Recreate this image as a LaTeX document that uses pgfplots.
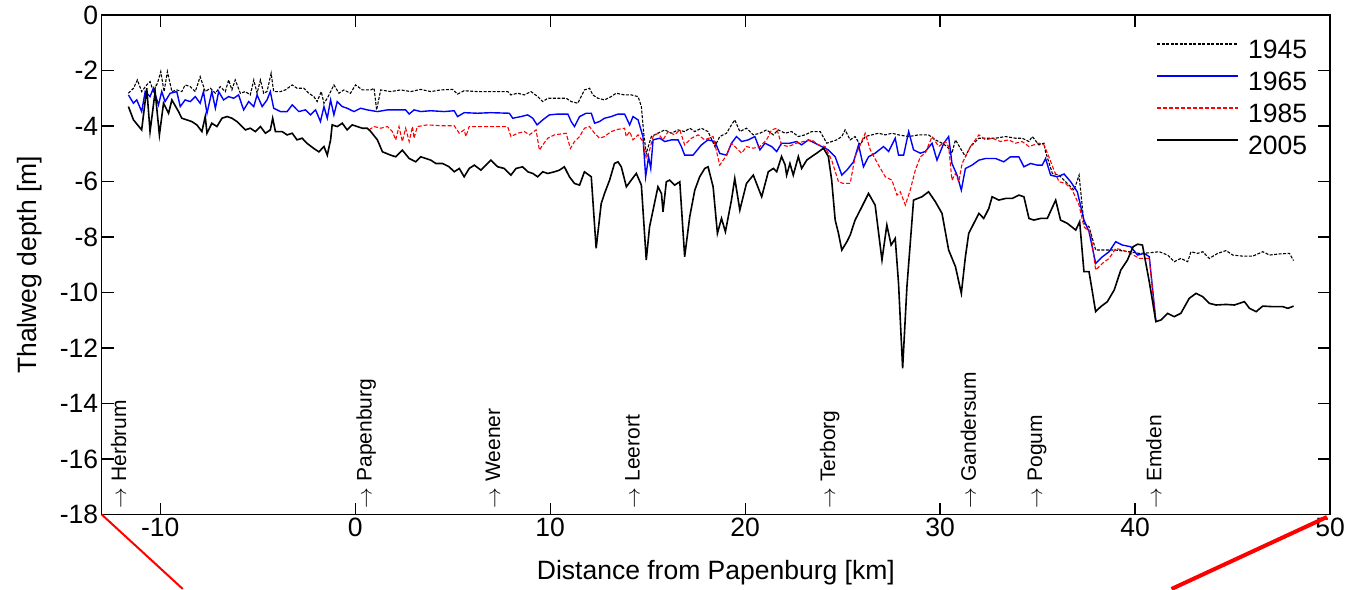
\documentclass[border=0pt]{standalone}
\usepackage{pgfplots}
\pgfplotsset{compat=1.18}
\usepackage{fontspec}
\setmainfont{Liberation Sans}
\begin{document}
\begin{tikzpicture}
\begin{axis}[
  name=ax,
  scale only axis, width=1228.3pt, height=499.5pt,
  xmin=-13, xmax=50, ymin=-18, ymax=0,
  xtick={-10,0,...,50}, ytick={-18,-16,...,0},
  tick align=inside, major tick length=12pt,
  tick style={black, line width=1.2pt},
  axis line style={line width=1.3pt},
  /pgf/number format/assume math mode=true,
  ticklabel style={font=\fontsize{26.5}{30}\selectfont},
  label style={font=\fontsize{26.5}{30}\selectfont},
  xlabel={Distance from Papenburg [km]},
  ylabel={Thalweg depth [m]},
  xlabel style={at={(axis description cs:0.5,-0.131)}, anchor=base},
  ylabel style={at={(axis description cs:-0.0584,0.5)}, anchor=center},
  clip=false,
  legend cell align=left,
  legend image code/.code={\draw[#1] (0pt,10pt) -- (81pt,10pt);},
  legend style={draw=none, fill=none, at={(axis description cs:0.9813,0.954)}, anchor=north east,
    inner sep=0pt, outer sep=0pt, font=\fontsize{26.5}{30}\selectfont, row sep=0pt,
    /tikz/every odd column/.append style={column sep=9pt},
    nodes={inner sep=0pt, text height=21pt, text depth=11pt}},
]
% 1945
\addplot[black, line width=1.1pt, dash pattern=on 3pt off 1.5pt] coordinates {
(-11.63,-2.82) (-11.37,-2.64) (-11.17,-2.34) (-10.95,-2.76) (-10.69,-2.52) (-10.52,-2.40) (-10.35,-2.76) (-10.14,-2.46) (-9.97,-2.04) (-9.80,-2.76) (-9.63,-2.04) (-9.40,-2.76) (-9.15,-2.70) (-8.89,-2.76) (-8.72,-2.52) (-8.46,-2.58) (-8.20,-2.76) (-7.95,-2.22) (-7.69,-2.76) (-7.43,-2.64) (-7.17,-2.82) (-6.92,-2.58) (-6.66,-2.76) (-6.49,-2.34) (-6.32,-2.70) (-6.15,-2.34) (-5.89,-2.82) (-5.63,-2.76) (-5.38,-2.88) (-5.20,-2.34) (-5.03,-2.82) (-4.86,-2.34) (-4.69,-2.82) (-4.52,-2.76) (-4.31,-2.10) (-4.18,-2.76) (-3.83,-2.76) (-3.58,-2.70) (-3.23,-2.52) (-2.98,-2.64) (-2.63,-2.64) (-2.38,-2.82) (-2.12,-2.94) (-1.95,-3.12) (-1.74,-2.76) (-1.60,-3.18) (-1.43,-3.00) (-1.09,-2.52) (-0.83,-2.82) (-0.58,-2.70) (-0.24,-2.82) (0.02,-2.52) (0.37,-2.70) (0.80,-2.70) (0.97,-2.64) (1.10,-3.42) (1.31,-2.70) (1.82,-2.76) (2.34,-2.70) (2.85,-2.76)
(3.36,-2.68) (3.88,-2.76) (4.39,-2.70) (4.99,-2.68) (5.25,-2.85) (5.59,-2.73) (6.28,-2.76) (6.96,-2.76) (7.82,-2.76) (7.99,-2.88) (8.34,-2.82) (8.68,-2.88) (9.02,-2.76) (9.36,-2.94) (9.62,-3.12) (9.88,-3.00) (10.39,-3.00) (10.82,-3.00) (11.08,-3.12) (11.42,-3.18) (11.76,-2.70) (12.02,-2.64) (12.19,-2.88) (12.45,-3.00) (12.79,-3.06) (13.13,-2.94) (13.39,-2.82) (13.82,-2.88) (14.16,-2.88) (14.51,-2.94) (14.68,-3.30) (14.80,-4.26) (14.93,-4.99) (15.19,-4.38) (15.53,-4.26) (15.88,-4.14) (16.22,-4.26) (16.56,-4.14) (16.90,-4.20) (17.16,-4.08) (17.42,-4.20) (17.76,-4.08) (18.10,-4.20) (18.45,-4.74) (18.70,-4.38) (19.05,-4.26)
(19.30,-3.96) (19.47,-3.78) (19.73,-4.20) (20.07,-4.08) (20.42,-4.32) (20.76,-4.26) (21.10,-4.14) (21.45,-4.32) (21.70,-4.14) (22.05,-4.26) (22.39,-4.20) (22.73,-4.38) (23.07,-4.32) (23.42,-4.20) (23.85,-4.20) (24.19,-4.62) (24.44,-4.56) (24.70,-4.50) (24.96,-4.38) (25.13,-4.14) (25.39,-4.50) (25.64,-4.38) (25.90,-4.68) (26.16,-4.38) (26.50,-4.32) (26.84,-4.26) (27.19,-4.32) (27.53,-4.26) (27.87,-4.32) (28.39,-4.38) (28.90,-4.32) (29.41,-4.32) (29.76,-4.50) (30.10,-4.62) (30.36,-4.74) (30.61,-4.98) (30.79,-4.50) (31.04,-4.80) (31.30,-5.10) (31.56,-4.74) (31.99,-4.44) (32.33,-4.44) (32.84,-4.44) (33.36,-4.38) (33.87,-4.44) (34.21,-4.44) (34.56,-4.56) (34.73,-4.38) (35.07,-4.68) (35.33,-4.62) (35.41,-4.93) (35.76,-5.71) (36.10,-5.77) (36.53,-6.07) (36.87,-6.31) (37.13,-5.77) (37.38,-7.51) (37.64,-7.63) (37.98,-8.47) (38.50,-8.47) (39.01,-8.47) (39.70,-8.53) (40.21,-8.59) (40.73,-8.57) (41.24,-8.53) (41.67,-8.65) (42.01,-8.89) (42.35,-8.77) (42.70,-8.89) (42.87,-8.53) (43.21,-8.59) (43.47,-8.53) (43.81,-8.77) (44.24,-8.59) (44.67,-8.49) (45.01,-8.65) (45.52,-8.69) (46.04,-8.69) (46.55,-8.53) (46.90,-8.65) (47.41,-8.61) (47.92,-8.59) (48.13,-8.85)
};
\addlegendentry{1945}
% 1965
\addplot[blue, line width=1.4pt] coordinates {
(-11.63,-2.88) (-11.37,-3.18) (-11.20,-3.06) (-10.95,-3.48) (-10.77,-2.76) (-10.52,-2.94) (-10.35,-2.64) (-10.09,-3.24) (-9.92,-2.76) (-9.75,-3.12) (-9.49,-2.82) (-9.15,-2.76) (-8.97,-3.30) (-8.72,-3.06) (-8.46,-3.12) (-8.20,-2.94) (-7.95,-3.18) (-7.78,-2.76) (-7.60,-3.54) (-7.35,-2.76) (-7.17,-3.36) (-7.00,-2.76) (-6.75,-3.06) (-6.49,-2.94) (-6.23,-3.00) (-5.98,-2.88) (-5.72,-3.42) (-5.46,-3.12) (-5.20,-3.30) (-5.03,-2.88) (-4.77,-3.30) (-4.52,-3.06) (-4.35,-2.76) (-4.18,-3.36) (-3.83,-3.48) (-3.49,-3.48) (-3.23,-3.24) (-2.89,-3.48) (-2.55,-3.42) (-2.29,-3.60) (-2.03,-3.42) (-1.78,-3.84) (-1.60,-3.30) (-1.43,-3.72) (-1.26,-3.06) (-1.09,-3.60) (-0.92,-3.12) (-0.66,-3.30) (-0.41,-3.36) (-0.06,-3.48) (0.28,-3.36) (0.62,-3.42) (1.14,-3.48) (1.65,-3.42) (2.17,-3.42) (2.59,-3.42) (2.77,-3.57) (3.02,-3.42)
(3.36,-3.48) (3.88,-3.45) (4.56,-3.48) (5.08,-3.45) (5.25,-3.66) (5.59,-3.52) (6.28,-3.54) (6.96,-3.52) (7.91,-3.54) (8.08,-3.72) (8.51,-3.66) (8.85,-3.60) (9.11,-3.72) (9.33,-3.96) (9.62,-3.78) (9.96,-3.60) (10.39,-3.57) (10.91,-3.57) (11.08,-3.84) (11.25,-4.02) (11.51,-3.66) (11.85,-3.54) (12.11,-3.54) (12.28,-3.90) (12.53,-3.84) (12.79,-3.72) (13.13,-3.66) (13.48,-3.57) (13.82,-3.57) (14.08,-3.96) (14.25,-3.66) (14.51,-3.78) (14.76,-4.38) (14.90,-5.83) (15.05,-5.11) (15.16,-5.53) (15.28,-4.50) (15.62,-4.44) (15.88,-4.56) (16.22,-4.50) (16.56,-4.50) (16.73,-4.74) (16.90,-5.05) (17.33,-5.05) (17.76,-4.68) (18.10,-4.50) (18.45,-4.56) (18.70,-4.99) (19.05,-5.05)
(19.30,-4.62) (19.56,-4.38) (19.82,-4.56) (20.16,-4.50) (20.50,-4.38) (20.76,-4.86) (21.02,-4.62) (21.36,-4.74) (21.62,-4.92) (21.87,-4.62) (22.30,-4.62) (22.64,-4.56) (22.90,-4.68) (23.24,-4.50) (23.59,-4.62) (23.93,-4.74) (24.27,-4.86) (24.62,-5.11) (24.96,-5.77) (25.22,-5.59) (25.56,-5.29) (25.82,-4.68) (26.07,-5.47) (26.33,-5.11) (26.67,-4.98) (27.10,-4.74) (27.36,-4.92) (27.70,-4.44) (27.87,-5.05) (28.13,-5.05) (28.39,-4.20) (28.64,-4.86) (28.99,-4.98) (29.24,-4.92) (29.59,-4.62) (29.84,-5.23) (30.19,-4.62) (30.44,-4.38) (30.61,-5.35) (30.87,-5.77) (31.09,-6.31) (31.30,-5.53) (31.64,-5.41) (31.99,-5.23) (32.33,-5.17) (32.84,-5.17) (33.27,-5.29) (33.61,-5.11) (34.04,-5.11) (34.30,-5.47) (34.64,-5.35) (34.98,-5.41) (35.24,-5.41) (35.41,-5.17) (35.67,-5.77) (36.01,-5.83) (36.36,-5.73) (36.70,-6.01) (37.04,-6.37) (37.38,-7.39) (37.64,-7.81) (37.98,-8.95) (38.33,-8.71) (38.67,-8.53) (39.01,-8.17) (39.35,-8.29) (39.78,-8.35) (40.13,-8.65) (40.47,-8.59) (40.73,-8.71) (41.07,-11.05)
};
\addlegendentry{1965}
% 1985
\addplot[red, line width=1.1pt, dash pattern=on 4pt off 2pt] coordinates {
(0.71,-4.14) (0.97,-4.02) (1.31,-4.08) (1.65,-4.02) (1.91,-4.20) (2.08,-4.50) (2.25,-4.02) (2.42,-4.56) (2.59,-4.08) (2.77,-4.56) (2.94,-4.02) (3.02,-4.44) (3.19,-4.02) (3.71,-3.96) (4.39,-3.99) (5.08,-3.99) (5.34,-4.26) (5.59,-4.14) (5.68,-4.38) (5.85,-4.02) (6.45,-4.02) (7.13,-4.02) (7.82,-4.02) (7.99,-4.38) (8.34,-4.26) (8.68,-4.20) (8.93,-4.32) (9.28,-4.14) (9.45,-4.87) (9.62,-4.68) (9.88,-4.44) (10.22,-4.32) (10.82,-4.26) (11.04,-4.81) (11.25,-4.56) (11.51,-4.38) (11.76,-4.08) (12.02,-4.02) (12.28,-4.26) (12.53,-4.44) (12.79,-4.38) (13.13,-4.20) (13.48,-4.12) (13.82,-4.08) (13.90,-4.38) (14.08,-4.20) (14.25,-4.50) (14.51,-4.32) (14.76,-4.56) (14.93,-5.17) (15.10,-4.87) (15.28,-4.38) (15.53,-4.26) (15.79,-4.50) (16.05,-4.20) (16.39,-4.32) (16.65,-4.14) (16.90,-4.68) (17.25,-4.44) (17.59,-4.32) (17.93,-4.50) (18.36,-4.38) (18.70,-5.41) (19.05,-5.05)
(19.30,-4.62) (19.56,-4.80) (19.82,-4.98) (20.07,-4.74) (20.42,-4.80) (20.76,-4.74) (21.10,-4.50) (21.36,-4.14) (21.62,-4.08) (21.87,-4.68) (22.22,-4.74) (22.64,-4.62) (22.99,-4.56) (23.42,-4.50) (23.76,-4.68) (24.10,-4.74) (24.44,-5.23) (24.79,-6.01) (25.04,-6.07) (25.39,-6.07) (25.64,-5.11) (25.90,-4.68) (26.16,-4.26) (26.42,-4.86) (26.84,-5.41) (27.19,-5.83) (27.53,-5.95) (27.79,-6.49) (27.96,-6.37) (28.22,-6.85) (28.47,-6.31) (28.73,-5.59) (28.99,-5.11) (29.24,-4.98) (29.59,-4.38) (29.93,-4.74) (30.27,-4.56) (30.44,-4.74) (30.61,-5.95) (30.79,-5.71) (30.96,-6.01) (31.13,-5.35) (31.30,-5.11) (31.56,-4.74) (31.99,-4.32) (32.33,-4.50) (32.67,-4.44) (33.10,-4.56) (33.53,-4.50) (33.87,-4.62) (34.21,-4.56) (34.56,-4.74) (34.81,-4.68) (35.07,-4.62) (35.33,-4.68) (35.58,-5.11) (35.84,-5.59) (36.10,-6.01) (36.44,-6.07) (36.78,-6.31) (37.13,-6.85) (37.38,-7.63) (37.73,-7.87) (37.98,-9.19) (38.33,-8.95) (38.67,-8.77) (39.01,-8.41) (39.35,-8.47) (39.78,-8.59) (40.21,-8.77) (40.73,-8.77) (41.07,-11.05)
};
\addlegendentry{1985}
% 2005
\addplot[black, line width=1.6pt] coordinates {
(-11.63,-3.30) (-11.37,-3.78) (-10.95,-4.14) (-10.69,-2.64) (-10.52,-4.20) (-10.26,-2.76) (-10.04,-4.32) (-9.83,-3.18) (-9.57,-3.54) (-9.40,-3.06) (-9.06,-3.48) (-8.89,-3.72) (-8.63,-3.78) (-8.38,-3.84) (-8.12,-3.96) (-7.86,-4.20) (-7.69,-3.66) (-7.60,-4.26) (-7.35,-3.90) (-7.09,-4.02) (-6.83,-3.72) (-6.57,-3.66) (-6.32,-3.72) (-6.06,-3.84) (-5.63,-4.14) (-5.38,-4.08) (-5.12,-4.20) (-4.86,-4.02) (-4.60,-4.26) (-4.35,-4.14) (-4.23,-3.72) (-4.09,-4.20) (-3.75,-4.20) (-3.49,-4.32) (-3.23,-4.26) (-2.98,-4.50) (-2.72,-4.44) (-2.46,-4.63) (-2.12,-4.81) (-1.86,-4.93) (-1.60,-4.74) (-1.43,-5.05) (-1.26,-4.50) (-1.18,-3.96) (-0.92,-4.02) (-0.66,-3.90) (-0.41,-4.14) (-0.15,-3.96) (0.11,-4.02) (0.37,-4.08) (0.62,-4.08) (0.80,-4.20) (1.14,-4.50) (1.40,-4.93) (1.82,-5.05) (2.08,-5.11) (2.42,-4.87) (2.77,-5.17) (3.11,-5.29)
(3.36,-5.11) (3.88,-5.23) (4.14,-5.35) (4.48,-5.35) (4.82,-5.47) (5.08,-5.65) (5.34,-5.53) (5.59,-5.83) (5.85,-5.53) (6.11,-5.41) (6.45,-5.59) (6.71,-5.41) (6.96,-5.23) (7.31,-5.47) (7.65,-5.53) (7.99,-5.77) (8.25,-5.53) (8.59,-5.47) (8.85,-5.65) (9.11,-5.71) (9.36,-5.83) (9.62,-5.65) (9.88,-5.71) (10.22,-5.65) (10.48,-5.59) (10.73,-5.47) (10.99,-5.83) (11.25,-6.07) (11.51,-6.13) (11.76,-5.65) (12.11,-5.83) (12.36,-8.41) (12.62,-6.79) (12.79,-6.43) (13.05,-5.95) (13.30,-5.35) (13.48,-5.29) (13.65,-5.47) (13.91,-6.19) (14.16,-5.95) (14.42,-5.71) (14.68,-6.13) (14.93,-8.83) (15.10,-7.63) (15.28,-7.03) (15.53,-6.19) (15.71,-6.43) (15.79,-7.09) (15.96,-6.01) (16.13,-5.95) (16.39,-6.13) (16.65,-6.01) (16.90,-8.71) (17.16,-7.27) (17.42,-6.31) (17.67,-5.83) (17.93,-5.53) (18.10,-5.47) (18.36,-6.19) (18.58,-7.87) (18.79,-7.33) (18.99,-7.81) (19.30,-6.67)
(19.47,-5.89) (19.73,-7.03) (20.07,-6.07) (20.42,-5.77) (20.85,-6.55) (21.19,-5.65) (21.45,-5.53) (21.62,-5.65) (21.87,-5.10) (22.05,-5.40) (22.13,-5.77) (22.30,-5.35) (22.47,-5.77) (22.73,-5.10) (22.90,-5.53) (23.16,-5.23) (23.42,-5.10) (23.67,-4.98) (24.02,-4.80) (24.27,-5.10) (24.44,-5.95) (24.62,-7.39) (24.79,-7.87) (24.96,-8.47) (25.22,-8.17) (25.39,-7.93) (25.64,-7.39) (25.99,-6.91) (26.33,-6.43) (26.67,-6.85) (27.02,-8.83) (27.27,-7.57) (27.49,-8.29) (27.70,-8.05) (27.87,-9.67) (28.08,-12.73) (28.30,-9.79) (28.64,-6.67) (29.07,-6.55) (29.41,-6.37) (29.76,-6.73) (30.10,-7.15) (30.44,-8.47) (30.79,-9.07) (31.09,-10.03) (31.30,-8.71) (31.47,-7.87) (31.73,-7.51) (31.99,-7.15) (32.24,-7.33) (32.50,-6.97) (32.67,-6.55) (33.01,-6.67) (33.36,-6.61) (33.70,-6.61) (34.04,-6.49) (34.30,-6.55) (34.56,-7.33) (34.81,-7.39) (35.16,-7.33) (35.50,-7.33) (35.93,-6.67) (36.18,-7.39) (36.53,-7.51) (36.96,-7.75) (37.16,-7.45) (37.38,-9.25) (37.64,-9.25) (37.98,-10.69) (38.24,-10.51) (38.58,-10.33) (38.93,-9.91) (39.27,-9.19) (39.61,-8.83) (39.90,-8.35) (40.13,-8.26) (40.38,-8.29) (40.73,-9.61) (41.07,-11.05) (41.33,-10.99) (41.67,-10.75) (42.01,-10.87) (42.35,-10.75) (42.78,-10.21) (43.13,-10.03) (43.47,-10.15) (43.81,-10.39) (44.15,-10.45) (44.67,-10.43) (45.10,-10.45) (45.61,-10.33) (45.87,-10.57) (46.21,-10.69) (46.55,-10.49) (47.07,-10.51) (47.58,-10.51) (47.84,-10.57) (48.13,-10.49)
};
\addlegendentry{2005}
% station labels
\begin{scope}[every node/.style={rotate=90, anchor=west, inner sep=0pt, font=\fontsize{21}{24}\selectfont}]
\node at (axis cs:-12.13,-17.78) {$\rightarrow$ Herbrum};
\node at (axis cs:0.56,-17.78) {$\rightarrow$ Papenburg};
\node at (axis cs:7.07,-17.78) {$\rightarrow$ Weener};
\node at (axis cs:14.23,-17.78) {$\rightarrow$ Leerort};
\node at (axis cs:24.34,-17.78) {$\rightarrow$ Terborg};
\node at (axis cs:31.45,-17.78) {$\rightarrow$ Gandersum};
\node at (axis cs:34.98,-17.78) {$\rightarrow$ Pogum};
\node at (axis cs:40.97,-17.78) {$\rightarrow$ Emden};
\end{scope}
\draw[red, line width=2pt] (rel axis cs:0,0) -- (rel axis cs:0.066,-0.149);
\draw[red, line width=4pt] (rel axis cs:0.9975,-0.005) -- (rel axis cs:0.871,-0.149);
\end{axis}
\pgfresetboundingbox
\path ([xshift=-101.7pt,yshift=-74.5pt]ax.south west) rectangle ([xshift=21pt,yshift=15pt]ax.north east);
\end{tikzpicture}
\end{document}
